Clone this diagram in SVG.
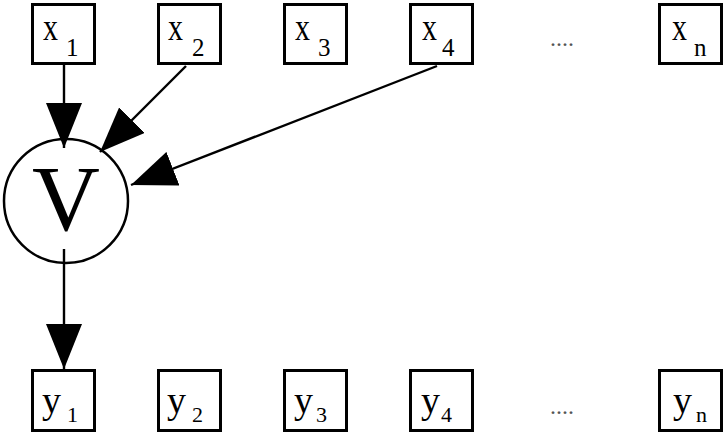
<svg xmlns="http://www.w3.org/2000/svg" width="723" height="433" viewBox="0 0 723 433">
<style>
.box{fill:#fff;stroke:#000;stroke-width:3}
.t{font-family:"Liberation Serif","Times New Roman",serif;fill:#000}
.m{font-size:38px}
.s{font-size:25px}
.ys{font-size:22px}
.dots{font-family:"Liberation Serif",serif;font-size:24px;fill:#555}
.ln{stroke:#000;stroke-width:2.4;fill:none}
</style>
<defs>
<marker id="ah" viewBox="0 0 45 36" refX="45" refY="18" markerWidth="45" markerHeight="36" markerUnits="userSpaceOnUse" orient="auto">
<path d="M0,0 L45,18 L0,36 Z" fill="#000"/>
</marker>
</defs>
<rect width="723" height="433" fill="#fff"/>
<g id="x1"><rect class="box" x="32.5" y="4.5" width="62" height="59"/><text class="t m" x="43" y="40" textLength="15" lengthAdjust="spacingAndGlyphs">x</text><text class="t s" x="66" y="56">1</text></g>
<g id="x2"><rect class="box" x="158.5" y="4.5" width="62" height="59"/><text class="t m" x="168" y="40" textLength="15" lengthAdjust="spacingAndGlyphs">x</text><text class="t s" x="192" y="56">2</text></g>
<g id="x3"><rect class="box" x="284.5" y="4.5" width="62" height="59"/><text class="t m" x="295" y="40" textLength="15" lengthAdjust="spacingAndGlyphs">x</text><text class="t s" x="318" y="56">3</text></g>
<g id="x4"><rect class="box" x="410.5" y="4.5" width="62" height="59"/><text class="t m" x="422" y="40" textLength="15" lengthAdjust="spacingAndGlyphs">x</text><text class="t s" x="442" y="56">4</text></g>
<g id="xdots"><text class="dots" x="550" y="46">....</text></g>
<g id="xn"><rect class="box" x="659.5" y="4.5" width="62" height="59"/><text class="t m" x="672" y="40" textLength="15" lengthAdjust="spacingAndGlyphs">x</text><text class="t s" x="694" y="56">n</text></g>
<g id="V"><circle cx="66" cy="201" r="62" fill="#fff" stroke="#000" stroke-width="2.5"/><text class="t" x="66" y="230" font-size="94" text-anchor="middle">V</text></g>
<g id="y1"><rect class="box" x="32.5" y="370.5" width="62" height="60"/><text class="t m" x="42" y="413">y</text><text class="t ys" x="67" y="422">1</text></g>
<g id="y2"><rect class="box" x="158.5" y="370.5" width="62" height="60"/><text class="t m" x="167" y="413">y</text><text class="t ys" x="192" y="422">2</text></g>
<g id="y3"><rect class="box" x="284.5" y="370.5" width="62" height="60"/><text class="t m" x="294" y="413">y</text><text class="t ys" x="316" y="422">3</text></g>
<g id="y4"><rect class="box" x="410.5" y="370.5" width="62" height="60"/><text class="t m" x="421" y="413">y</text><text class="t ys" x="441" y="422">4</text></g>
<g id="ydots"><text class="dots" x="550" y="414">....</text></g>
<g id="yn"><rect class="box" x="659.5" y="370.5" width="62" height="60"/><text class="t m" x="673" y="413">y</text><text class="t ys" x="696" y="422">n</text></g>
<g id="connectors">
<line class="ln" x1="64" y1="65" x2="64" y2="148" marker-end="url(#ah)"/>
<line class="ln" x1="186" y1="66" x2="100" y2="152" marker-end="url(#ah)"/>
<line class="ln" x1="437" y1="66" x2="131" y2="185" marker-end="url(#ah)"/>
<line class="ln" x1="64" y1="249" x2="64" y2="369" marker-end="url(#ah)"/>
</g>
</svg>
